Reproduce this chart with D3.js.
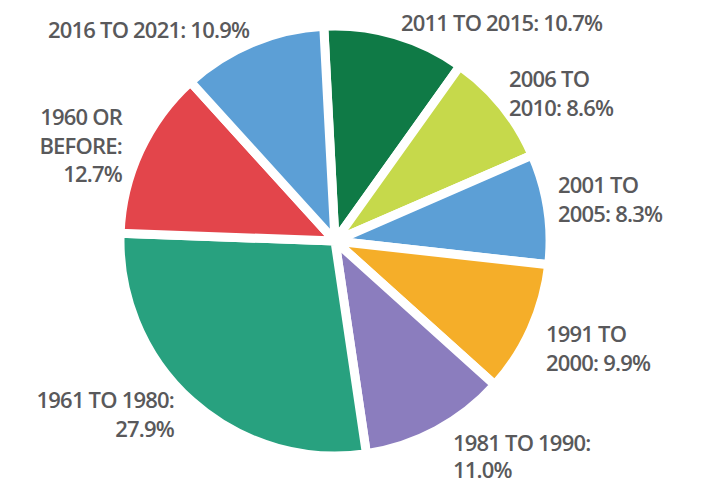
<!DOCTYPE html>
<html lang="en">
<head>
    <meta charset="UTF-8">
    <title>Year built</title>
    <script src="https://d3js.org/d3.v7.min.js"></script>
    <style>
        body { margin: 0; background: #fff; }
        .slices path {
            stroke: #fff;
            stroke-width: 9px;
            stroke-linejoin: round;
        }
        .label text {
            font-family: "Open Sans", sans-serif;
            font-weight: 600;
            font-size: 22px;
            letter-spacing: -0.8px;
            fill: #59595b;
        }
    </style>
</head>
<body>
    <svg id="chart" width="706" height="485"></svg>
    <script>
        // Slices in clockwise order starting near 12 o'clock
        const categories = ["2011 TO 2015", "2006 TO 2010", "2001 TO 2005", "1991 TO 2000",
                            "1981 TO 1990", "1961 TO 1980", "1960 OR BEFORE", "2016 TO 2021"];
        const shares = [10.7, 8.6, 8.3, 9.9, 11.0, 27.9, 12.7, 10.9];
        const colors = ["#0f7a46", "#c6d94b", "#5c9fd6", "#f5ae29",
                        "#8b7dbe", "#28a17f", "#e3454b", "#5c9fd6"];

        // label lines and where each block sits (layout only)
        const labelLines = [
            ["2011 TO 2015: 10.7%"],
            ["2006 TO", "2010: 8.6%"],
            ["2001 TO", "2005: 8.3%"],
            ["1991 TO", "2000: 9.9%"],
            ["1981 TO 1990:", "11.0%"],
            ["1961 TO 1980:", "27.9%"],
            ["1960 OR", "BEFORE:", "12.7%"],
            ["2016 TO 2021: 10.9%"]
        ];
        const labelPos = [
            {x: 401, y: 31, anchor: "start"},
            {x: 509, y: 87, anchor: "start"},
            {x: 558, y: 193, anchor: "start"},
            {x: 546, y: 342, anchor: "start"},
            {x: 453, y: 451, anchor: "start", lead: 27},
            {x: 174, y: 408, anchor: "end"},
            {x: 122, y: 125, anchor: "end"},
            {x: 48, y: 38, anchor: "start"}
        ];

        const svg = d3.select("#chart");
        const cx = 335, cy = 241, radius = 215;
        const startAngle = -3 * Math.PI / 180;

        const pie = d3.pie()
            .value(d => d)
            .sort(null)
            .startAngle(startAngle)
            .endAngle(startAngle + 2 * Math.PI);

        const arc = d3.arc()
            .innerRadius(0)
            .outerRadius(radius);

        const g = svg.append("g")
            .attr("class", "slices")
            .attr("transform", `translate(${cx},${cy})`);

        g.selectAll("path")
            .data(pie(shares))
            .enter().append("path")
            .attr("d", arc)
            .attr("fill", (d, i) => colors[i]);

        const labels = svg.append("g").attr("class", "label");
        labels.selectAll("text")
            .data(categories)
            .enter().append("text")
            .attr("x", (d, i) => labelPos[i].x)
            .attr("y", (d, i) => labelPos[i].y)
            .attr("text-anchor", (d, i) => labelPos[i].anchor)
            .each(function(d, i) {
                const t = d3.select(this);
                labelLines[i].forEach((line, j) => {
                    t.append("tspan")
                        .attr("x", labelPos[i].x)
                        .attr("dy", j === 0 ? 0 : (labelPos[i].lead || 28.5))
                        .text(line);
                });
            });
    </script>
</body>
</html>
